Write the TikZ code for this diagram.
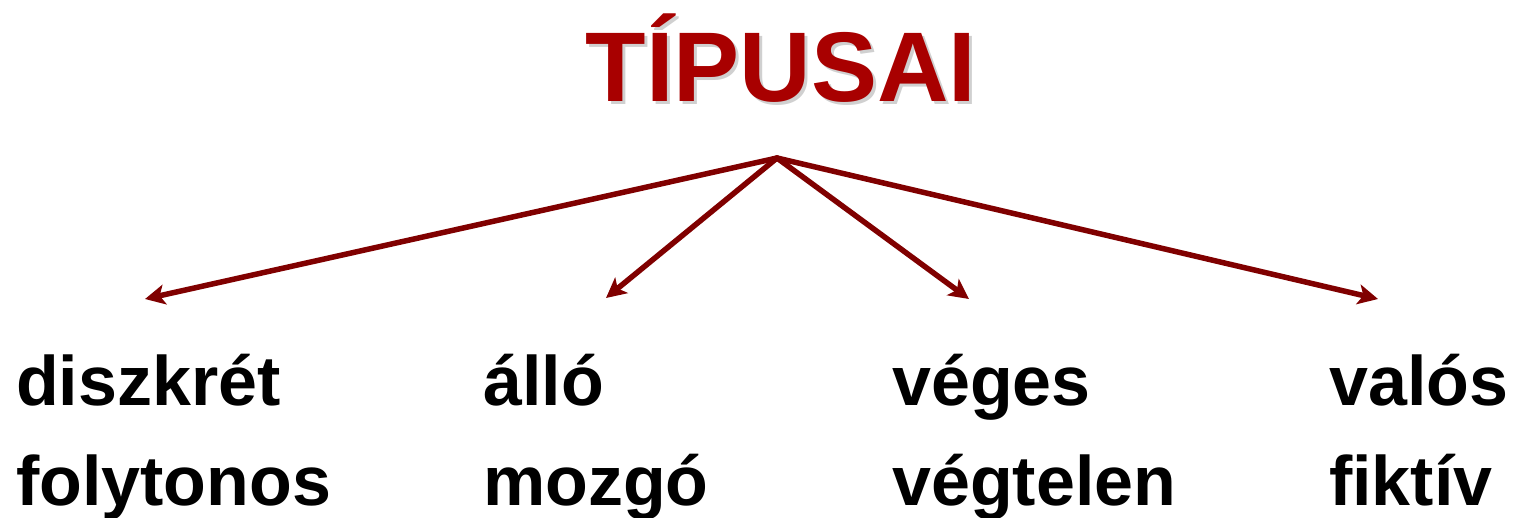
\documentclass[tikz,border=0pt]{standalone}
\usepackage{fontspec}
\setmainfont{Liberation Sans}
\usetikzlibrary{arrows.meta}
\definecolor{titlered}{RGB}{168,0,0}
\definecolor{arrowred}{RGB}{128,0,0}
\definecolor{shadowgray}{RGB}{150,150,150}
\tikzset{
  label/.style={anchor=base west, inner sep=0pt, font=\bfseries\fontsize{70}{80}\selectfont},
  titletext/.style={anchor=base, inner sep=0pt, font=\bfseries\fontsize{99}{110}\selectfont},
  branch/.style={draw=arrowred, line width=5.5pt, line cap=round,
    -{Stealth[length=20pt, width=20pt, inset=5pt]}}
}
\begin{document}
\begin{tikzpicture}[x=1pt, y=-1pt]
  \useasboundingbox (0,0) rectangle (1515,517);

  % heading with a soft drop shadow
  \node[titletext, text=shadowgray, opacity=0.45] (titleshadow) at (784,104) {TÍPUSAI};
  \node[titletext, text=titlered] (title) at (781,101) {TÍPUSAI};

  % branching point and arrow targets
  \coordinate (hub) at (777,158);
  \coordinate (t1) at (145,299);
  \coordinate (t2) at (606,298);
  \coordinate (t3) at (969,299);
  \coordinate (t4) at (1378,299);

  \draw[branch] (hub) -- (t1);
  \draw[branch] (hub) -- (t2);
  \draw[branch] (hub) -- (t3);
  \draw[branch] (hub) -- (t4);

  % category pairs
  \node[label] (a1) at (16,405) {diszkrét};
  \node[label] (a2) at (16,505) {folytonos};
  \node[label] (b1) at (483,405) {álló};
  \node[label] (b2) at (483,505) {mozgó};
  \node[label] (c1) at (892,405) {véges};
  \node[label] (c2) at (892,505) {végtelen};
  \node[label] (d1) at (1329,405) {valós};
  \node[label] (d2) at (1329,505) {fiktív};
\end{tikzpicture}
\end{document}
